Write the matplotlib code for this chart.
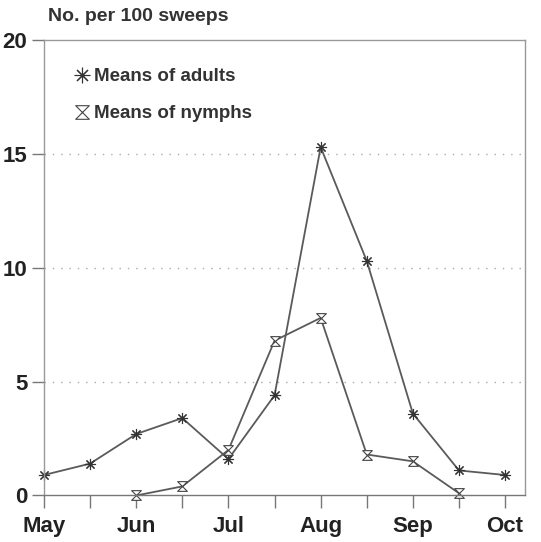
import numpy as np
import matplotlib.pyplot as plt
from matplotlib.path import Path

# half-month steps from May to Oct
x_pos = np.arange(11)
month_labels = ["May", "", "Jun", "", "Jul", "", "Aug", "", "Sep", "", "Oct"]

adults_x = [0, 1, 2, 3, 4, 5, 6, 7, 8, 9, 10]
adults_y = [0.9, 1.4, 2.7, 3.4, 1.6, 4.4, 15.3, 10.3, 3.6, 1.1, 0.9]

nymphs_x = [2, 3, 4, 5, 6, 7, 8, 9]
nymphs_y = [0.0, 0.4, 2.0, 6.8, 7.8, 1.8, 1.5, 0.1]

plt.rcParams['font.family'] = ['Liberation Sans', 'DejaVu Sans']
plt.rcParams['font.weight'] = 'bold'

hourglass = Path([(-1, 1), (1, 1), (-1, -1), (1, -1), (-1, 1)],
                 [Path.MOVETO, Path.LINETO, Path.LINETO, Path.LINETO, Path.CLOSEPOLY])

fig = plt.figure(figsize=(5.41, 5.42), dpi=100)
ax = fig.add_axes([0.0813, 0.0858, 0.889, 0.8402])

line_col = '#5a5a5a'
ax.plot(adults_x, adults_y, color=line_col, lw=1.3, marker=(8, 2, 0), ms=8,
        mec='#333333', mew=0.8, label="Means of adults", clip_on=False)
ax.plot(nymphs_x, nymphs_y, color=line_col, lw=1.3, marker=hourglass, ms=7,
        mfc='white', mec='#444444', mew=0.8, label="Means of nymphs", clip_on=False)

ax.set_xlim(0, 10.43)
ax.set_ylim(0, 20)
ax.set_xticks(x_pos)
ax.set_xticklabels(month_labels)
ax.set_yticks([0, 5, 10, 15, 20])

for y in [5, 10, 15]:
    ax.axhline(y, color='#aaaaaa', lw=1.0, ls=(0, (1, 5)), zorder=0)

for side in ['left', 'right', 'top', 'bottom']:
    ax.spines[side].set_color('#999999')
    ax.spines[side].set_linewidth(1.0)
ax.spines['bottom'].set_color('#777777')

ax.tick_params(axis='both', direction='out', length=9, width=1.0, color='#777777',
               labelsize=16, labelcolor='#222222', pad=6)
ax.tick_params(axis='y', pad=3)

fig.text(0.088, 0.985, "No. per 100 sweeps", fontsize=14, fontweight='bold',
         color='#333333', va='top', ha='left')

leg = ax.legend(loc='upper left', bbox_to_anchor=(0.03, 0.975), frameon=False,
                fontsize=13.5, handlelength=0.7, handletextpad=0.3, labelspacing=1.05,
                numpoints=1, markerscale=1.4)
for t in leg.get_texts():
    t.set_color('#333333')
for h in leg.legend_handles:
    h.set_linestyle('none')

fig.savefig("out.png", dpi=100)
